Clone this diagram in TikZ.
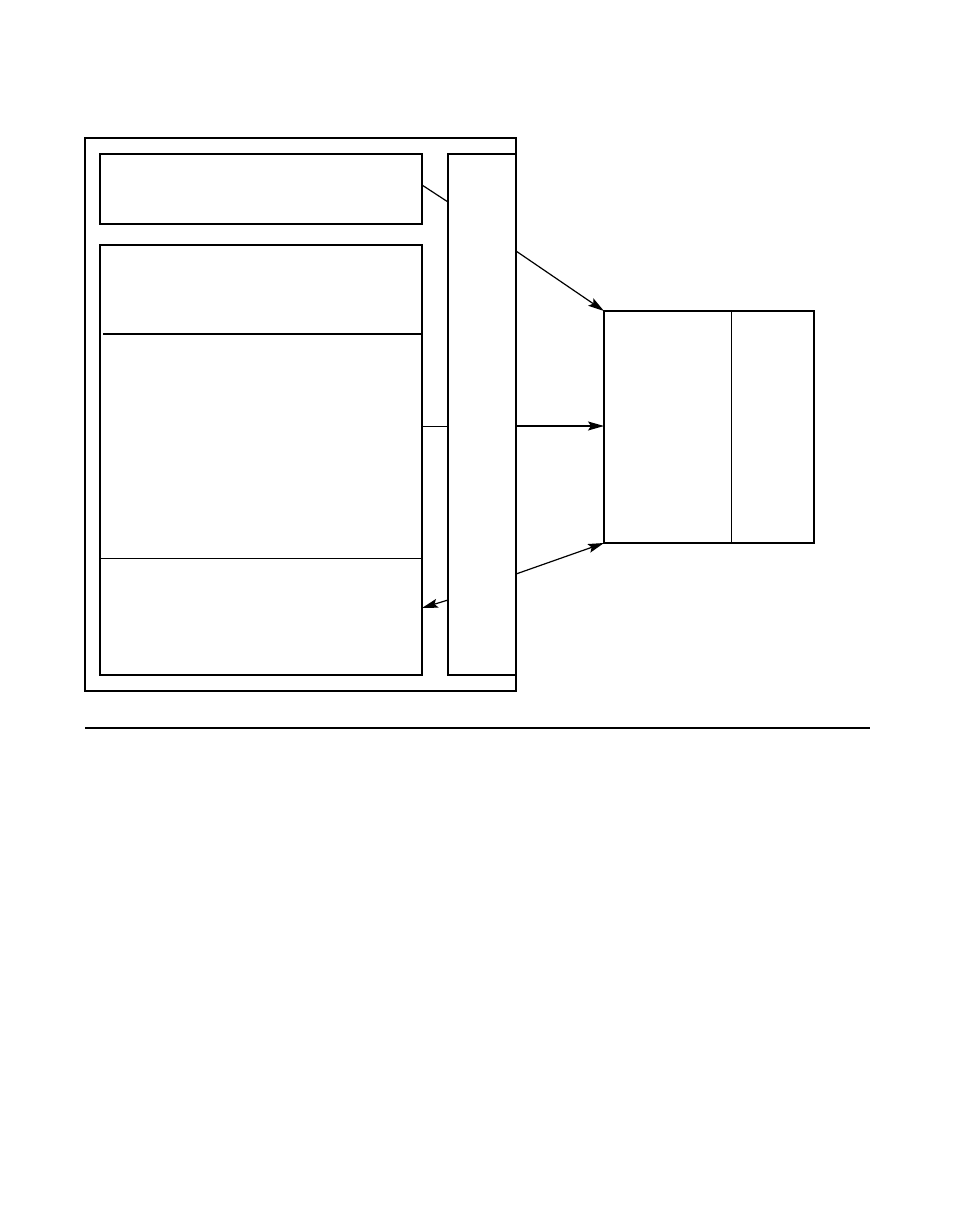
\documentclass[tikz,border=0pt]{standalone}
\usetikzlibrary{arrows.meta}
\begin{document}
\begin{tikzpicture}[x=1pt,y=-1pt,
  thick box/.style={draw,line width=1.5pt,rectangle,inner sep=0pt,outer sep=0pt,anchor=north west},
  thin line/.style={line width=0.9pt},
  conn/.style={line width=1.2pt,-{Stealth[length=16pt,width=9pt,inset=3pt]}},
  plain conn/.style={line width=1.2pt}]
\useasboundingbox[fill=white] (0,0) rectangle (954,1227);
% outer frame
\node[thick box,minimum width=431pt,minimum height=553pt] (outer) at (85,138) {};
% top-left box
\node[thick box,minimum width=322pt,minimum height=70pt] (topbox) at (100,154) {};
% large left box
\node[thick box,minimum width=322pt,minimum height=430pt] (mainbox) at (100,245) {};
\draw[line width=1.5pt] (103,334) -- (mainbox.east |- 0,334);
\draw[thin line] (mainbox.west |- 0,558) -- (mainbox.east |- 0,558);
% vertical bar
\node[thick box,minimum width=68pt,minimum height=521pt] (bar) at (448,154) {};
% right box
\node[thick box,minimum width=210pt,minimum height=232pt] (rbox) at (604,311) {};
\draw[thin line] (731,311) -- (731,543);
% coordinates on borders
\coordinate (t1) at (422,185);
\coordinate (b1) at (448,202);
\coordinate (a1s) at (516,251);
\coordinate (m1) at (422,426);
\coordinate (m2) at (448,426);
\coordinate (a2s) at (516,426);
\coordinate (a2e) at (604,426);
\coordinate (a3s) at (516,574);
\coordinate (a4s) at (448,600);
\coordinate (a4e) at (422,608);
% connectors
\draw[plain conn] (t1) -- (b1);
\draw[conn] (a1s) -- (rbox.north west);
\draw[thin line] (m1) -- (m2);
\draw[conn] (a2s) -- (a2e);
\draw[conn] (a3s) -- (rbox.south west);
\draw[conn] (a4s) -- (a4e);
% horizontal rule
\coordinate (r1) at (85,728);
\coordinate (r2) at (870,728);
\draw[line width=1.3pt] (r1) -- (r2);
\end{tikzpicture}
\end{document}
